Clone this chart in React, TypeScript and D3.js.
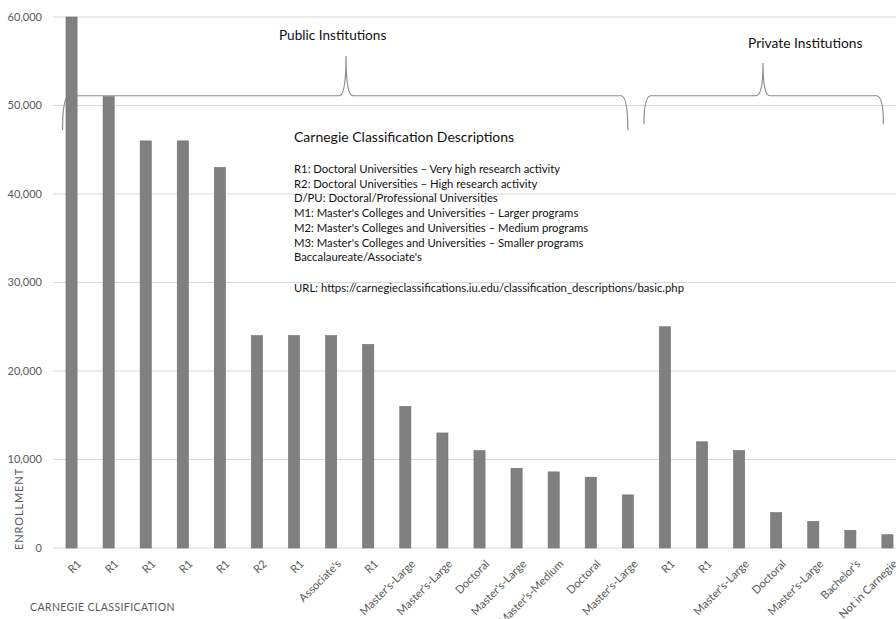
import React from 'react'
import * as d3 from 'd3'

// chart values
const categories = [
  'R1', 'R1', 'R1', 'R1', 'R1', 'R2', 'R1', "Associate's", 'R1',
  "Master's-Large", "Master's-Large", 'Doctoral', "Master's-Large", "Master's-Medium",
  'Doctoral', "Master's-Large",
  'R1', 'R1', "Master's-Large", 'Doctoral', "Master's-Large", "Bachelor's", 'Not in Carnegie',
]
const enrollment = [
  60000, 51000, 46000, 46000, 43000, 24000, 24000, 24000, 23000,
  16000, 13000, 11000, 9000, 8600, 8000, 6000,
  25000, 12000, 11000, 4000, 3000, 2000, 1500,
]
const yTicks = [0, 10000, 20000, 30000, 40000, 50000, 60000]
const descriptions = [
  'R1: Doctoral Universities – Very high research activity',
  'R2: Doctoral Universities – High research activity',
  'D/PU: Doctoral/Professional Universities',
  "M1: Master's Colleges and Universities – Larger programs",
  "M2: Master's Colleges and Universities – Medium programs",
  "M3: Master's Colleges and Universities – Smaller programs",
  "Baccalaureate/Associate's",
]
const url = 'URL: https://carnegieclassifications.iu.edu/classification_descriptions/basic.php'

const W = 896
const H = 619
const font = 'Lato, "Open Sans", sans-serif'
const axisColor = '#595959'

export default function App() {
  const ids = categories.map((_, i) => String(i))
  const x = d3.scaleBand().domain(ids).range([53, 906]).paddingInner(0.7).paddingOuter(0.35)
  const y = d3.scaleLinear().domain([0, 60000]).range([548, 17])
  const cx = (i: number) => (x(String(i)) as number) + x.bandwidth() / 2

  // curly brace over a group of bars
  const brace = (xl: number, xm: number, xr: number, yEnd: number, yH: number, yPeak: number) => {
    const r = 7
    return [
      `M${xl},${yEnd}`,
      `Q${xl},${yH} ${xl + r},${yH}`,
      `L${xm - r},${yH}`,
      `Q${xm},${yH} ${xm},${yPeak}`,
      `Q${xm},${yH} ${xm + r},${yH}`,
      `L${xr - r},${yH}`,
      `Q${xr},${yH} ${xr},${yEnd}`,
    ].join(' ')
  }

  return (
    <svg width={W} height={H} style={{ position: 'absolute', left: 0, top: 0, background: '#fff' }} fontFamily={font}>
      {/* gridlines */}
      {yTicks.map((t) => (
        <line key={t} x1={53} x2={W} y1={y(t)} y2={y(t)} stroke="#d9d9d9" strokeWidth={1} />
      ))}
      {yTicks.map((t) => (
        <text key={'l' + t} x={42} y={y(t)} dy="0.35em" textAnchor="end" fontSize={11} fill={axisColor}>
          {d3.format(',')(t)}
        </text>
      ))}

      {/* group braces */}
      <path
        d={brace(cx(0) - 9, 346, cx(15), y(47200), y(51100), y(55600))}
        fill="none"
        stroke="#8c8c8c"
        strokeWidth={1.2}
      />
      <path
        d={brace(cx(16) - 21, 763, cx(22) - 4, y(47900), y(51100), y(54800))}
        fill="none"
        stroke="#8c8c8c"
        strokeWidth={1.2}
      />
      <text x={279} y={40} fontSize={13.6} fill="#111">Public Institutions</text>
      <text x={748} y={48} fontSize={13.8} fill="#111">Private Institutions</text>

      {/* bars */}
      {enrollment.map((v, i) => (
        <rect
          key={i}
          x={x(String(i))}
          y={y(v)}
          width={x.bandwidth()}
          height={y(0) - y(v)}
          fill="#808080"
          stroke="#6e6e6e"
          strokeWidth={0.6}
        />
      ))}

      {/* category labels */}
      {categories.map((c, i) => (
        <text
          key={'c' + i}
          transform={`translate(${cx(i) + 5},${559}) rotate(-45)`}
          textAnchor="end"
          dy="0.7em"
          fontSize={11.2}
          fill={axisColor}
        >
          {c}
        </text>
      ))}

      {/* description box */}
      <text x={294} y={142} fontSize={14} fill="#111">Carnegie Classification Descriptions</text>
      {descriptions.map((d, i) => (
        <text key={'d' + i} x={294} y={173 + i * 14.7} fontSize={11.3} fill="#111">
          {d}
        </text>
      ))}
      <text x={294} y={292} fontSize={11.3} fill="#111">{url}</text>

      {/* axis titles */}
      <text
        transform={`translate(23,${509}) rotate(-90)`}
        textAnchor="middle"
        fontSize={11}
        letterSpacing={0.9}
        fill={axisColor}
      >
        ENROLLMENT
      </text>
      <text x={30} y={611} fontSize={10.5} fill={axisColor} letterSpacing={0.4}>
        CARNEGIE  CLASSIFICATION
      </text>
    </svg>
  )
}
